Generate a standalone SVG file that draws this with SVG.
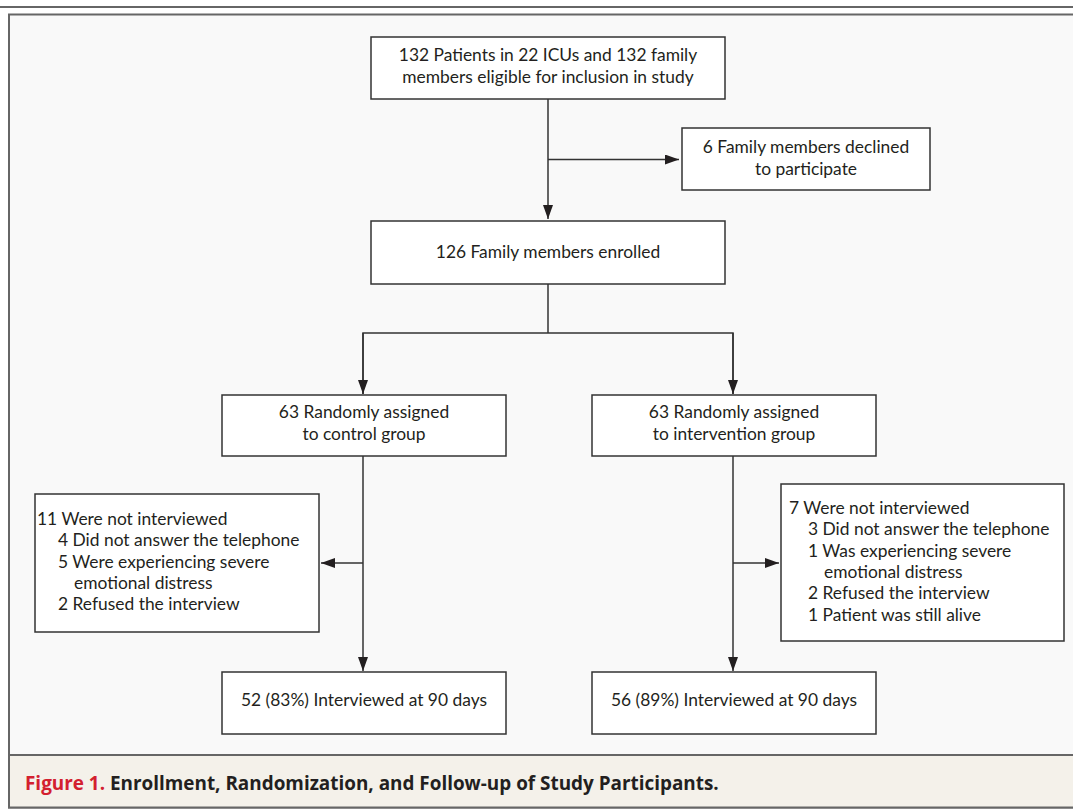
<svg xmlns="http://www.w3.org/2000/svg" width="1073" height="810" viewBox="0 0 1073 810">
<defs>
<style>
.box{fill:#ffffff;stroke:#333333;stroke-width:1.5}
.t{font-family:Lato,"Open Sans","Liberation Sans",sans-serif;font-size:17.4px;fill:#231f20}
.c{text-anchor:middle}
.ln{fill:none;stroke:#333333;stroke-width:1.5}
.cap{font-family:"Open Sans",Lato,"Liberation Sans",sans-serif;font-size:18.9px;font-weight:bold}
</style>
<marker id="ah" viewBox="0 0 14 10" refX="14" refY="5" markerWidth="14" markerHeight="10" markerUnits="userSpaceOnUse" orient="auto">
<path d="M0,0 L14,5 L0,10 Z" fill="#231f20"/>
</marker>
</defs>
<rect x="0" y="0" width="1073" height="810" fill="#ffffff"/>
<line x1="0" y1="7" x2="1073" y2="7" stroke="#666666" stroke-width="2"/>
<rect x="9" y="14.5" width="1070" height="793" fill="#f9f9f9" stroke="#666666" stroke-width="2"/>
<rect x="9" y="755" width="1070" height="52.5" fill="#f4f1ea" stroke="#666666" stroke-width="2"/>

<g id="connectors">
<line class="ln" x1="548" y1="99" x2="548" y2="219" marker-end="url(#ah)"/>
<line class="ln" x1="548" y1="159.5" x2="679" y2="159.5" marker-end="url(#ah)"/>
<polyline class="ln" points="548,284 548,333"/>
<polyline class="ln" points="363,394 363,333 733,333 733,394"/>
<line class="ln" x1="363" y1="333" x2="363" y2="394" marker-end="url(#ah)"/>
<line class="ln" x1="733" y1="333" x2="733" y2="394" marker-end="url(#ah)"/>
<line class="ln" x1="363" y1="456" x2="363" y2="671" marker-end="url(#ah)"/>
<line class="ln" x1="363" y1="563" x2="321" y2="563" marker-end="url(#ah)"/>
<line class="ln" x1="733" y1="456" x2="733" y2="671" marker-end="url(#ah)"/>
<line class="ln" x1="733" y1="563" x2="779" y2="563" marker-end="url(#ah)"/>
</g>

<g id="eligible">
<rect class="box" x="371" y="37" width="354" height="62"/>
<text class="t c" x="548" y="61">132 Patients in 22 ICUs and 132 family</text>
<text class="t c" x="548" y="83">members eligible for inclusion in study</text>
</g>
<g id="declined">
<rect class="box" x="682" y="128" width="248" height="62"/>
<text class="t c" x="806" y="153">6 Family members declined</text>
<text class="t c" x="806" y="175">to participate</text>
</g>
<g id="enrolled">
<rect class="box" x="371" y="221" width="354" height="63"/>
<text class="t c" x="548" y="258">126 Family members enrolled</text>
</g>
<g id="control">
<rect class="box" x="222" y="395" width="284" height="61"/>
<text class="t c" x="364" y="418">63 Randomly assigned</text>
<text class="t c" x="364" y="440">to control group</text>
</g>
<g id="intervention">
<rect class="box" x="592" y="395" width="284" height="61"/>
<text class="t c" x="734" y="418">63 Randomly assigned</text>
<text class="t c" x="734" y="440">to intervention group</text>
</g>
<g id="control-excluded">
<rect class="box" x="35" y="494" width="284" height="138"/>
<text class="t" x="37" y="525">11 Were not interviewed</text>
<text class="t" x="58" y="546">4 Did not answer the telephone</text>
<text class="t" x="58" y="568">5 Were experiencing severe</text>
<text class="t" x="74" y="589">emotional distress</text>
<text class="t" x="58" y="610">2 Refused the interview</text>
</g>
<g id="intervention-excluded">
<rect class="box" x="781" y="484" width="283" height="157"/>
<text class="t" x="789" y="514">7 Were not interviewed</text>
<text class="t" x="808" y="535">3 Did not answer the telephone</text>
<text class="t" x="808" y="557">1 Was experiencing severe</text>
<text class="t" x="824" y="578">emotional distress</text>
<text class="t" x="808" y="599">2 Refused the interview</text>
<text class="t" x="808" y="621">1 Patient was still alive</text>
</g>
<g id="control-interviewed">
<rect class="box" x="222" y="672" width="284" height="62"/>
<text class="t c" x="364" y="706">52 (83%) Interviewed at 90 days</text>
</g>
<g id="intervention-interviewed">
<rect class="box" x="592" y="672" width="284" height="62"/>
<text class="t c" x="734" y="706">56 (89%) Interviewed at 90 days</text>
</g>
<g id="caption">
<text class="cap" x="25" y="790"><tspan fill="#d3202f">Figure 1.</tspan><tspan fill="#231f20"> Enrollment, Randomization, and Follow-up of Study Participants.</tspan></text>
</g>
</svg>
